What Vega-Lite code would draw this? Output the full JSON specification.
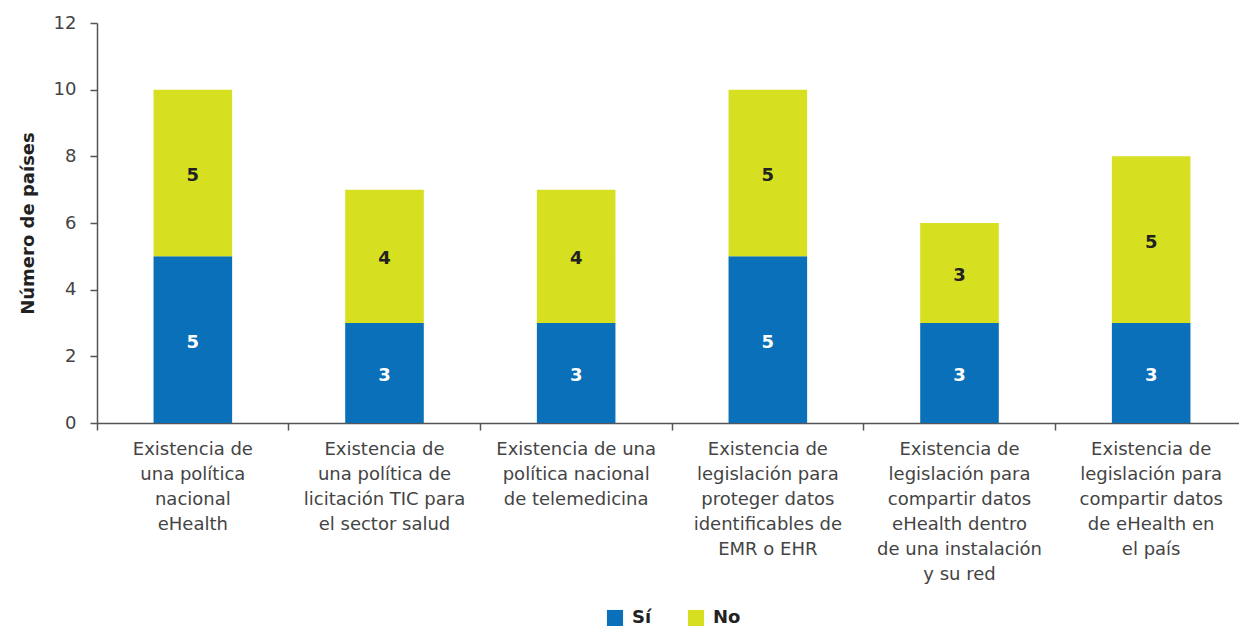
{
  "$schema": "https://vega.github.io/schema/vega-lite/v6.json",
  "width": 1150,
  "height": 400,
  "padding": {"left": 19, "top": 14, "right": 0, "bottom": 0},
  "background": "white",
  "config": {
    "font": "DejaVu Sans",
    "view": {"stroke": null}
  },
  "data": {
    "values": [
      {"categoria": "Existencia de|una política|nacional|eHealth", "serie": "Sí", "valor": 5},
      {"categoria": "Existencia de|una política|nacional|eHealth", "serie": "No", "valor": 5},
      {"categoria": "Existencia de|una política de|licitación TIC para|el sector salud", "serie": "Sí", "valor": 3},
      {"categoria": "Existencia de|una política de|licitación TIC para|el sector salud", "serie": "No", "valor": 4},
      {"categoria": "Existencia de una|política nacional|de telemedicina", "serie": "Sí", "valor": 3},
      {"categoria": "Existencia de una|política nacional|de telemedicina", "serie": "No", "valor": 4},
      {"categoria": "Existencia de|legislación para|proteger datos|identificables de|EMR o EHR", "serie": "Sí", "valor": 5},
      {"categoria": "Existencia de|legislación para|proteger datos|identificables de|EMR o EHR", "serie": "No", "valor": 5},
      {"categoria": "Existencia de|legislación para|compartir datos|eHealth dentro|de una instalación|y su red", "serie": "Sí", "valor": 3},
      {"categoria": "Existencia de|legislación para|compartir datos|eHealth dentro|de una instalación|y su red", "serie": "No", "valor": 3},
      {"categoria": "Existencia de|legislación para|compartir datos|de eHealth en|el país", "serie": "Sí", "valor": 3},
      {"categoria": "Existencia de|legislación para|compartir datos|de eHealth en|el país", "serie": "No", "valor": 5}
    ]
  },
  "encoding": {
    "x": {
      "field": "categoria",
      "type": "nominal",
      "sort": null,
      "scale": {"paddingInner": 0, "paddingOuter": 0},
      "axis": {
        "title": null,
        "labelExpr": "split(datum.label, '|')",
        "labelAngle": 0,
        "labelFontSize": 18,
        "labelFont": "DejaVu Sans",
        "labelColor": "#444444",
        "labelLineHeight": 25,
        "labelPadding": 10,
        "labelLimit": 300,
        "bandPosition": 0,
        "tickSize": 7,
        "tickColor": "#555555",
        "tickWidth": 1.5,
        "domainColor": "#555555",
        "domainWidth": 1.5
      }
    }
  },
  "layer": [
    {
      "mark": {"type": "bar", "width": {"band": 0.41}},
      "encoding": {
        "y": {
          "field": "valor",
          "type": "quantitative",
          "stack": "zero",
          "scale": {"domain": [0, 12]},
          "axis": {
            "title": "Número de países",
            "titleFontSize": 18,
            "titleFontWeight": 600,
            "titleFont": "DejaVu Sans",
            "titleColor": "#222222",
            "titlePadding": 16,
            "values": [0, 2, 4, 6, 8, 10, 12],
            "grid": false,
            "labelFontSize": 18,
            "labelColor": "#444444",
            "labelPadding": 14,
            "tickSize": 7,
            "tickColor": "#555555",
            "tickWidth": 1.5,
            "domainColor": "#555555",
            "domainWidth": 1.5
          }
        },
        "color": {
          "field": "serie",
          "type": "nominal",
          "scale": {"domain": ["Sí", "No"], "range": ["#0a70b9", "#d7df21"]},
          "legend": {
            "title": null,
            "orient": "none",
            "legendX": 509,
            "legendY": 586,
            "direction": "horizontal",
            "symbolType": "square",
            "symbolSize": 260,
            "symbolStrokeWidth": 0,
            "labelFontSize": 18,
            "labelFontWeight": "bold",
            "labelColor": "#222222",
            "columnPadding": 35,
            "labelOffset": 8
          }
        },
        "order": {"field": "serie", "sort": "descending"}
      }
    },
    {
      "transform": [
        {"stack": "valor", "groupby": ["categoria"], "sort": [{"field": "serie", "order": "descending"}], "as": ["v0", "v1"]},
        {"calculate": "(datum.v0 + datum.v1) / 2", "as": "medio"}
      ],
      "mark": {"type": "text", "fontSize": 18, "fontWeight": 600, "baseline": "middle", "dy": 3},
      "encoding": {
        "y": {"field": "medio", "type": "quantitative"},
        "text": {"field": "valor", "type": "quantitative"},
        "color": {
          "condition": {"test": "datum.serie === 'Sí'", "value": "white"},
          "value": "#222222"
        }
      }
    }
  ]
}
